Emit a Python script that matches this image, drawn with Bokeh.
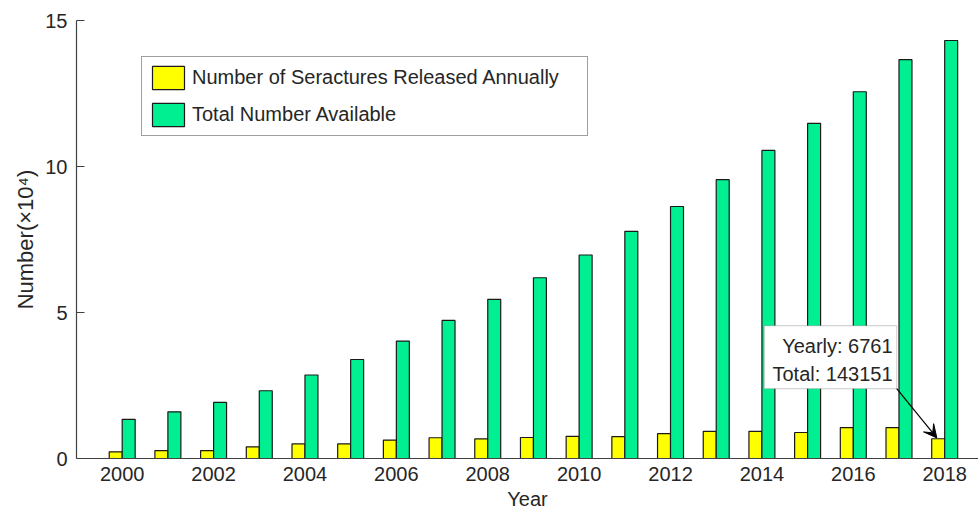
from bokeh.plotting import figure
from bokeh.models import (Range1d, FixedTicker, Legend, LegendItem, Arrow, VeeHead,
                          Label, BoxAnnotation, ColumnDataSource)
from bokeh.embed import file_html
from bokeh.resources import INLINE

# ---- data (units of 10^4) ----
years = [2000, 2001, 2002, 2003, 2004, 2005, 2006, 2007, 2008, 2009,
         2010, 2011, 2012, 2013, 2014, 2015, 2016, 2017, 2018]
yearly = [0.23, 0.27, 0.27, 0.40, 0.50, 0.50, 0.63, 0.71, 0.67, 0.72,
          0.76, 0.75, 0.85, 0.93, 0.93, 0.89, 1.06, 1.06, 0.6761]
total = [1.34, 1.60, 1.92, 2.32, 2.86, 3.39, 4.02, 4.73, 5.45, 6.19,
         6.97, 7.78, 8.63, 9.55, 10.55, 11.48, 12.56, 13.66, 14.3151]
x_ticks = [2000, 2002, 2004, 2006, 2008, 2010, 2012, 2014, 2016, 2018]
y_ticks = [0, 5, 10, 15]
series_names = ["Number of Seractures Released Annually", "Total Number Available"]

FONT = "Liberation Sans"
TXT = "#262626"
AX = "#404040"
BW = 0.284

src = ColumnDataSource(dict(
    x_y=[y - BW / 2 for y in years],
    x_t=[y + BW / 2 for y in years],
    yearly=yearly, total=total))

p = figure(width=978, height=519, output_backend="svg", toolbar_location=None,
           x_range=Range1d(1999, 2018.74), y_range=Range1d(0, 15),
           min_border_left=76, min_border_right=0, min_border_top=20,
           min_border_bottom=61)
p.outline_line_color = None
p.grid.visible = False
p.background_fill_color = "white"
p.border_fill_color = "white"

r1 = p.vbar(x="x_y", top="yearly", width=BW, source=src,
            fill_color="#FFFF00", line_color="#1a1a1a", line_width=1.2)
r2 = p.vbar(x="x_t", top="total", width=BW, source=src,
            fill_color="#00F091", line_color="#1a1a1a", line_width=1.2)

# axes
p.xaxis.ticker = FixedTicker(ticks=x_ticks)
p.yaxis.ticker = FixedTicker(ticks=y_ticks)
for ax in (p.xaxis[0], p.yaxis[0]):
    ax.axis_line_color = AX
    ax.axis_line_width = 1.2
    ax.major_tick_line_color = AX
    ax.minor_tick_line_color = None
    ax.major_label_text_font = FONT
    ax.major_label_text_font_size = "20px"
    ax.major_label_text_color = TXT
    ax.axis_label_text_font = FONT
    ax.axis_label_text_font_style = "normal"
    ax.axis_label_text_color = TXT
p.yaxis.major_tick_in = 8
p.yaxis.major_tick_out = 0
p.yaxis.major_label_standoff = 9
p.yaxis.axis_label = "Number(×10⁴)"
p.yaxis.axis_label_text_font_size = "22px"
p.yaxis.axis_label_standoff = 4
p.xaxis.major_tick_in = 0
p.xaxis.major_tick_out = 0
p.xaxis.major_label_standoff = 8
p.xaxis.axis_label = "Year"
p.xaxis.axis_label_text_font_size = "20px"
p.xaxis.axis_label_standoff = 4

# legend
legend = Legend(items=[LegendItem(label=series_names[0], renderers=[r1]),
                       LegendItem(label=series_names[1], renderers=[r2])],
                location=(65, 322), margin=0, padding=6, spacing=8,
                glyph_width=40, glyph_height=29, label_standoff=4,
                label_width=389,
                label_text_font=FONT, label_text_font_size="20px",
                label_text_color=TXT,
                border_line_color=AX, border_line_width=1.2,
                background_fill_color="white", background_fill_alpha=1)
p.add_layout(legend)

# data-tip annotation for the final year
box = BoxAnnotation(left=2014.05, right=2016.95, bottom=2.39, top=4.55,
                    fill_color="white", fill_alpha=1,
                    line_color="#707070", line_width=1.2)
p.add_layout(box)
last_year = years[-1]
lab1 = Label(x=2016.86, y=3.86, text=f"Yearly: {round(yearly[-1] * 1e4)}",
             text_align="right", text_baseline="middle",
             text_font=FONT, text_font_size="20px", text_color=TXT)
lab2 = Label(x=2016.86, y=2.90, text=f"Total: {round(total[-1] * 1e4)}",
             text_align="right", text_baseline="middle",
             text_font=FONT, text_font_size="20px", text_color=TXT)
p.add_layout(lab1)
p.add_layout(lab2)
arrow = Arrow(x_start=2016.95, y_start=2.39,
              x_end=last_year - BW / 2 - 0.03, y_end=yearly[-1] + 0.03,
              line_color="black", line_width=1.2,
              end=VeeHead(size=13, fill_color="black", line_color="black"))
p.add_layout(arrow)

open("out.html", "w").write(file_html(p, INLINE))
